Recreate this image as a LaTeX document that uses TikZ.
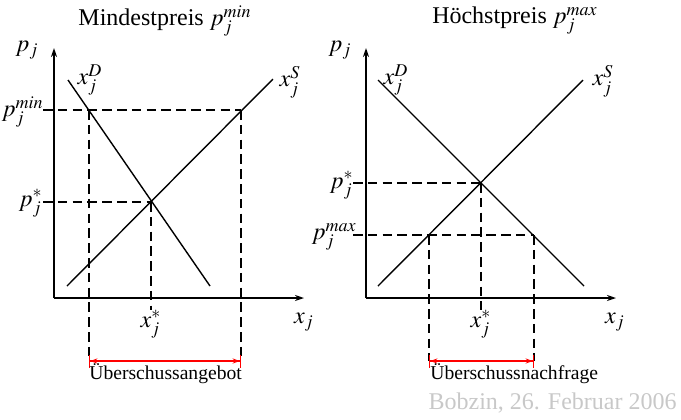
\documentclass[tikz,border=0pt,12pt]{standalone}
\usepackage{mathptmx}
\usepackage{fontspec}
\setmainfont{Liberation Serif}
\usetikzlibrary{arrows.meta}
\definecolor{stampgray}{RGB}{200,200,200}
\tikzset{
  axis/.style={line width=0.85pt, -{Stealth[length=4.5pt,width=3pt]}},
  curve/.style={line width=0.7pt},
  guide/.style={line width=0.8pt, dash pattern=on 4.8pt off 2.6pt},
  surplus/.style={red, line width=0.7pt,
    {Bar[width=6.5pt]Stealth[length=3.5pt,width=2.6pt]}-{Stealth[length=3.5pt,width=2.6pt]Bar[width=6.5pt]}},
  lbl/.style={inner sep=0pt, font=\fontsize{12}{14}\selectfont},
  note/.style={inner sep=0pt, font=\fontsize{9.8}{12}\selectfont}
}
\begin{document}
\begin{tikzpicture}[x=0.5pt, y=-0.5pt]
    \useasboundingbox (0,0) rectangle (681,419);
    % 左：最低価格
    \node[lbl] (title1) at (165,21) {Mindestpreis $p_j^{min}$};
    \coordinate (O1) at (54,298);
    \coordinate (Y1) at (54,48);
    \coordinate (X1) at (304,298);
    \draw[axis] (O1) -- (Y1);
    \draw[axis] (O1) -- (X1);
    \coordinate (D1a) at (68,80);
    \coordinate (D1b) at (210,286);
    \coordinate (S1a) at (67,286);
    \coordinate (S1b) at (273,79);
    \draw[curve] (D1a) -- (D1b);
    \draw[curve] (S1a) -- (S1b);
    \coordinate (E1) at (151,202);
    \coordinate (m1) at (43,110);
    \coordinate (mD1) at (89,110);
    \coordinate (mS1) at (241,110);
    \coordinate (mDb1) at (89,361);
    \coordinate (mSb1) at (241,361);
    \coordinate (T1) at (0,310);
    \draw[guide] (m1) -- (mS1);
    \draw[guide] (mD1) -- (mDb1);
    \draw[guide] (mS1) -- (mSb1);
    \draw[guide] (E1 -| m1) -- (E1);
    \draw[guide] (E1) -- (E1 |- T1);
    \draw[surplus] (mDb1) -- (mSb1);
    \node[lbl] (pj1) at (27,50) {$p_j$};
    \node[lbl] (xD1) at (90,80) {$x_j^D$};
    \node[lbl] (xS1) at (290,82) {$x_j^S$};
    \node[lbl, anchor=east] (pmin1) at (44,112) {$p_j^{min}$};
    \node[lbl, anchor=east] (pst1) at (43,203) {$p_j^*$};
    \node[lbl] (xst1) at (151,324) {$x_j^*$};
    \node[lbl] (xj1) at (304,322) {$x_j$};
    \node[note, anchor=west] (ua) at (89,374) {Überschussangebot};
    % 右：最高価格
    \node[lbl] (title2) at (515,21) {Höchstpreis $p_j^{max}$};
    \coordinate (O2) at (366,298);
    \coordinate (Y2) at (366,48);
    \coordinate (X2) at (616,298);
    \draw[axis] (O2) -- (Y2);
    \draw[axis] (O2) -- (X2);
    \coordinate (D2a) at (378,80);
    \coordinate (D2b) at (584,286);
    \coordinate (S2a) at (378,286);
    \coordinate (S2b) at (583,80);
    \draw[curve] (D2a) -- (D2b);
    \draw[curve] (S2a) -- (S2b);
    \coordinate (E2) at (481,183);
    \coordinate (m2) at (353,235);
    \coordinate (mS2) at (429,235);
    \coordinate (mD2) at (534,235);
    \coordinate (mSb2) at (429,361);
    \coordinate (mDb2) at (534,361);
    \coordinate (T2) at (0,310);
    \coordinate (L2) at (353,0);
    \draw[guide] (m2) -- (mD2);
    \draw[guide] (mS2) -- (mSb2);
    \draw[guide] (mD2) -- (mDb2);
    \draw[guide] (E2 -| L2) -- (E2);
    \draw[guide] (E2) -- (E2 |- T2);
    \draw[surplus] (mSb2) -- (mDb2);
    \node[lbl] (pj2) at (340,50) {$p_j$};
    \node[lbl] (xD2) at (396,80) {$x_j^D$};
    \node[lbl] (xS2) at (603,81) {$x_j^S$};
    \node[lbl, anchor=east] (pst2) at (354,185) {$p_j^*$};
    \node[lbl, anchor=east] (pmax2) at (357,237) {$p_j^{max}$};
    \node[lbl] (xst2) at (481,324) {$x_j^*$};
    \node[lbl] (xj2) at (615,322) {$x_j$};
    \node[note, anchor=west] (un) at (430,374) {Überschussnachfrage};
    \node[lbl, text=stampgray, anchor=east] (stamp) at (677,403) {Bobzin, 26. Februar 2006};
  \end{tikzpicture}
\end{document}
